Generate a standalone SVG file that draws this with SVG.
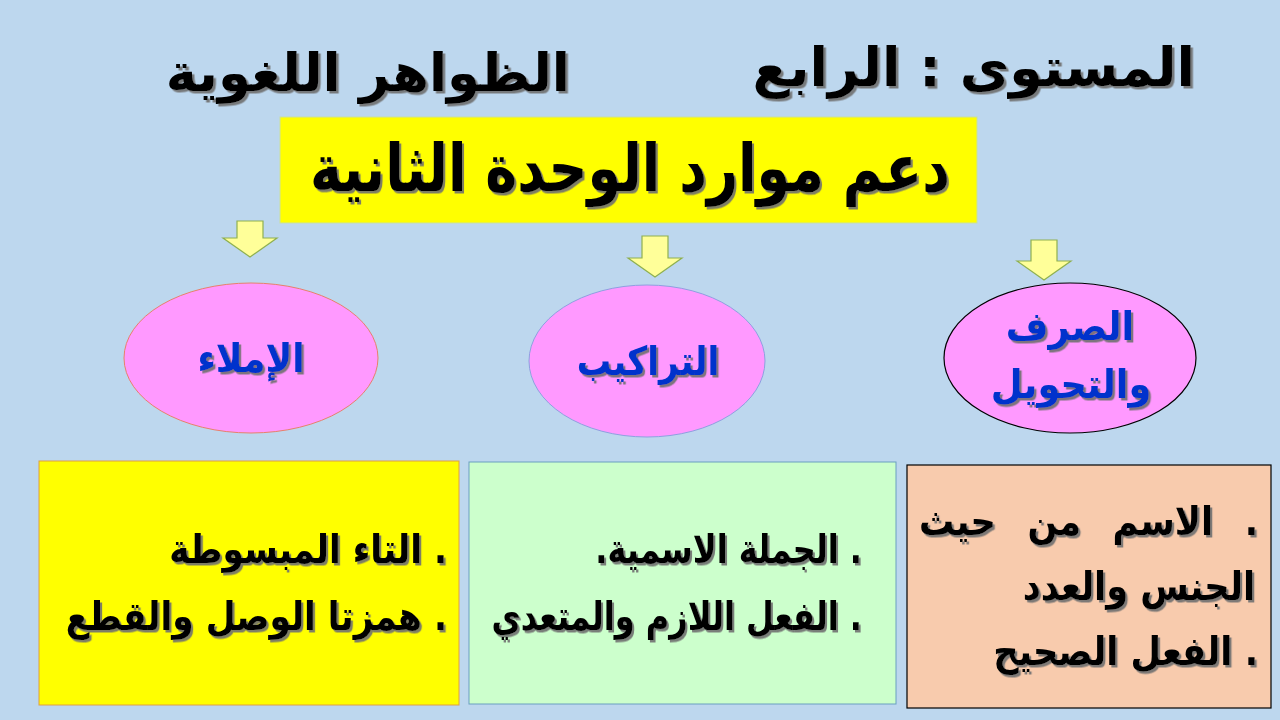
<svg xmlns="http://www.w3.org/2000/svg" width="1280" height="720" viewBox="0 0 1280 720">
<defs>
<filter id="sh" x="-5%" y="-5%" width="115%" height="125%">
<feDropShadow dx="2.5" dy="2.5" stdDeviation="0.6" flood-color="#707070" flood-opacity="0.9"/>
</filter>
<style>
.t{font-family:"DejaVu Sans","Noto Sans",sans-serif;font-weight:bold;fill:#000;filter:url(#sh)}
.b{fill:#0033CC}
.arr{fill:#FFFF99;stroke:#8FB050;stroke-width:1.2}
.ell{fill:#FF99FF}
</style>
</defs>
<rect width="1280" height="720" fill="#BDD7EE"/>
<g id="title">
<text class="t" x="1195" y="86" font-size="54" direction="rtl" text-anchor="start">المستوى : الرابع</text>
<text class="t" x="570" y="91" font-size="53" direction="rtl" text-anchor="start">الظواهر اللغوية</text>
</g>
<g id="main">
<rect x="280" y="117" width="697" height="106" fill="#FFFF00" stroke="#C9E0A0" stroke-width="1"/>
<text class="t" transform="translate(630 191) scale(0.82 1)" font-size="66" text-anchor="middle" direction="rtl">دعم موارد الوحدة الثانية</text>
</g>
<g id="connectors">
<path class="arr" d="M237 221 H263 V238 H277 L250 257 L223 238 H237 Z"/>
<path class="arr" d="M642 236 H668 V258 H682 L655 277 L628 258 H642 Z"/>
<path class="arr" d="M1031 240 H1057 V261 H1071 L1044 280 L1017 261 H1031 Z"/>
</g>
<g id="imla">
<ellipse class="ell" cx="251" cy="358" rx="127" ry="75" stroke="#E8806A" stroke-width="1"/>
<text class="t b" transform="translate(251 372) scale(0.9 1)" font-size="40" text-anchor="middle" direction="rtl">الإملاء</text>
</g>
<g id="tarakib">
<ellipse class="ell" cx="647" cy="361" rx="118" ry="76" stroke="#8FA0E0" stroke-width="1"/>
<text class="t b" transform="translate(648 375) scale(0.86 1)" font-size="40" text-anchor="middle" direction="rtl">التراكيب</text>
</g>
<g id="sarf">
<ellipse class="ell" cx="1070" cy="358" rx="126" ry="75" stroke="#000" stroke-width="1.2"/>
<text class="t b" transform="translate(1070 340) scale(0.92 1)" font-size="40" text-anchor="middle" direction="rtl">الصرف</text>
<text class="t b" transform="translate(1071 398) scale(0.92 1)" font-size="40" text-anchor="middle" direction="rtl">والتحويل</text>
</g>
<g id="box-imla">
<rect x="39" y="461" width="420" height="244" fill="#FFFF00" stroke="#E0A040" stroke-width="1"/>
<text class="t" transform="translate(447 563) scale(0.86 1)" font-size="40" direction="rtl" text-anchor="start">. التاء المبسوطة</text>
<text class="t" transform="translate(447 630) scale(0.86 1)" font-size="40" direction="rtl" text-anchor="start">. همزتا الوصل والقطع</text>
</g>
<g id="box-tarakib">
<rect x="469" y="462" width="427" height="242" fill="#CCFFCC" stroke="#6A9FC0" stroke-width="1"/>
<text class="t" transform="translate(862 563) scale(0.8 1)" font-size="40" direction="rtl" text-anchor="start">. الجملة الاسمية.</text>
<text class="t" transform="translate(862 630) scale(0.8 1)" font-size="40" direction="rtl" text-anchor="start">. الفعل اللازم والمتعدي</text>
</g>
<g id="box-sarf">
<rect x="907" y="465" width="364" height="243" fill="#F8CBAD" stroke="#000" stroke-width="1.2"/>
<text class="t" transform="translate(1258 535) scale(0.88 1)" font-size="40" direction="rtl" text-anchor="start" word-spacing="22">. الاسم من حيث</text>
<text class="t" transform="translate(1255 600) scale(0.88 1)" font-size="40" direction="rtl" text-anchor="start">الجنس والعدد</text>
<text class="t" transform="translate(1258 665) scale(0.88 1)" font-size="40" direction="rtl" text-anchor="start">. الفعل الصحيح</text>
</g>
</svg>
